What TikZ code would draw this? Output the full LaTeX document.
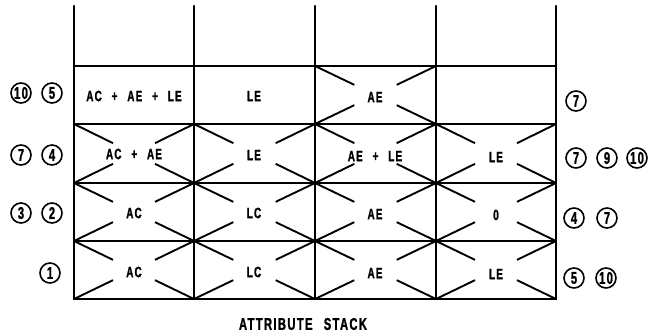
\documentclass[tikz,border=0pt]{standalone}
\usepackage{fontspec}
\newfontfamily\lbl{Liberation Sans Bold}[FakeStretch=0.66,FakeBold=1.2,LetterSpace=8,WordSpace=2.5]
\usetikzlibrary{calc}
\begin{document}
\begin{tikzpicture}[x=1pt,y=-1pt,
  gridline/.style={line width=2.2pt,line cap=round},
  xline/.style={line width=1.9pt},
  lab/.style={inner sep=0pt,font=\lbl\fontsize{15}{15}\selectfont},
  cnum/.style={draw,circle,line width=1.6pt,minimum size=20pt,inner sep=0pt,
    font=\lbl\fontsize{17}{17}\selectfont},
  ttl/.style={inner sep=0pt,font=\lbl\fontsize{17}{17}\selectfont}]
\useasboundingbox (0,0) rectangle (655,335);
% grid
\foreach \x in {74,194,315,436,556}
  \draw[gridline] (\x,6) -- (\x,299);
\foreach \y in {66,124,183,241,299}
  \draw[gridline] (74,\y) -- (556,\y);
% crossed cells
\foreach \xa/\xb/\ya/\yb in {315/436/66/124,
  74/194/124/183,194/315/124/183,315/436/124/183,436/556/124/183,
  74/194/183/241,194/315/183/241,315/436/183/241,436/556/183/241,
  74/194/241/299,194/315/241/299,315/436/241/299,436/556/241/299}{
  \pgfmathsetmacro\cx{(\xa+\xb)/2}
  \pgfmathsetmacro\cy{(\ya+\yb)/2}
  \draw[xline] (\xa,\ya) -- ($(\xa,\ya)!0.65!(\cx,\cy)$);
  \draw[xline] (\xb,\ya) -- ($(\xb,\ya)!0.65!(\cx,\cy)$);
  \draw[xline] (\xa,\yb) -- ($(\xa,\yb)!0.65!(\cx,\cy)$);
  \draw[xline] (\xb,\yb) -- ($(\xb,\yb)!0.65!(\cx,\cy)$);
}
% cell labels
\node[lab] (c11) at (134,96) {AC + AE + LE};
\node[lab] (c12) at (254,96) {LE};
\node[lab] (c13) at (375,97) {AE};
\node[lab] (c21) at (134,154) {AC + AE};
\node[lab] (c22) at (254,155) {LE};
\node[lab] (c23) at (375,156) {AE + LE};
\node[lab] (c24) at (496,157) {LE};
\node[lab] (c31) at (134,213) {AC};
\node[lab] (c32) at (254,213) {LC};
\node[lab] (c33) at (375,214) {AE};
\node[lab] (c34) at (496,215) {0};
\node[lab] (c41) at (134,272) {AC};
\node[lab] (c42) at (254,272) {LC};
\node[lab] (c43) at (375,273) {AE};
\node[lab] (c44) at (496,274) {LE};
% circled numbers, left
\node[cnum] (l1a) at (21,93) {10};
\node[cnum] (l1b) at (52,93) {5};
\node[cnum] (l2a) at (21,155) {7};
\node[cnum] (l2b) at (52,155) {4};
\node[cnum] (l3a) at (21,213) {3};
\node[cnum] (l3b) at (52,213) {2};
\node[cnum] (l4a) at (50,273) {1};
% circled numbers, right
\node[cnum] (r1a) at (576,101) {7};
\node[cnum] (r2a) at (576,158) {7};
\node[cnum] (r2b) at (607,158) {9};
\node[cnum] (r2c) at (637,158) {10};
\node[cnum] (r3a) at (574,218) {4};
\node[cnum] (r3b) at (607,218) {7};
\node[cnum] (r4a) at (574,278) {5};
\node[cnum] (r4b) at (606,278) {10};
% title
\node[ttl] (title) at (303,324) {ATTRIBUTE STACK};
\end{tikzpicture}
\end{document}
